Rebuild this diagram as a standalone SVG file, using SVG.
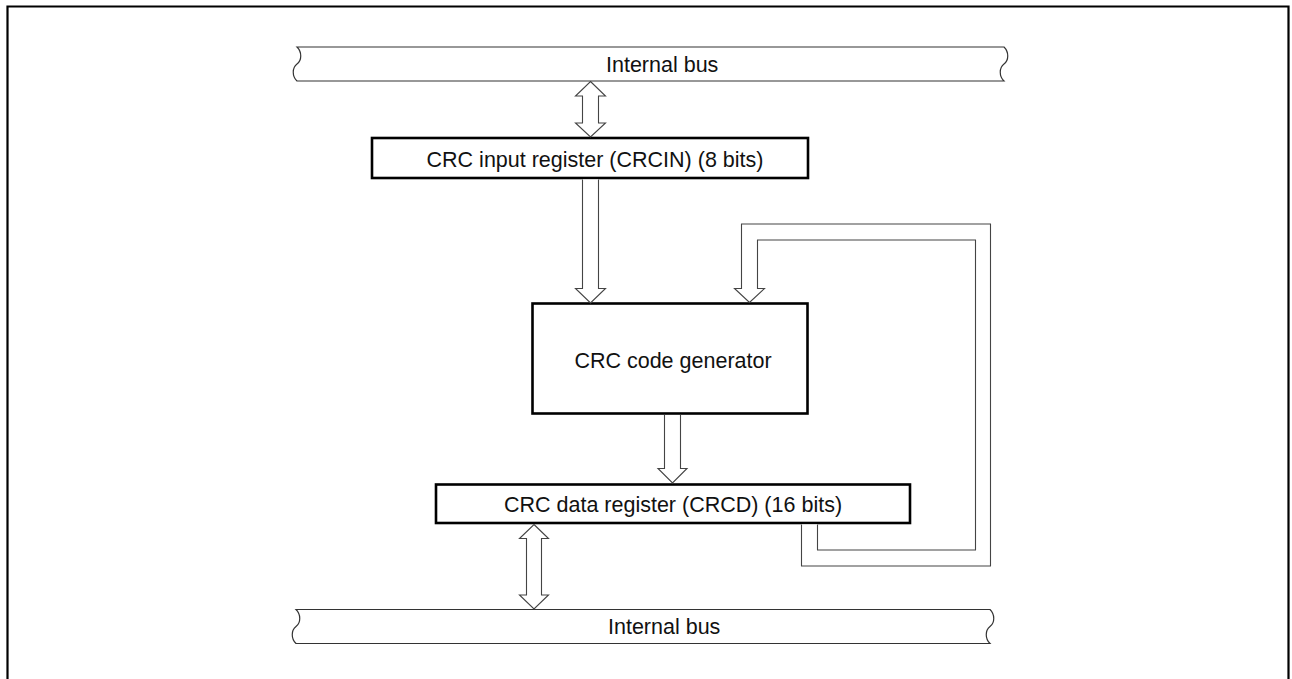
<svg xmlns="http://www.w3.org/2000/svg" width="1292" height="679" viewBox="0 0 1292 679">
<style>
.frame{fill:none;stroke:#000;stroke-width:2.2}
.box{fill:#fff;stroke:#000;stroke-width:2.6}
.bus{fill:none;stroke:#333;stroke-width:1.2}
.arr{fill:#fff;stroke:#444;stroke-width:1.1;stroke-linejoin:miter}
.t{font-family:"Liberation Sans",Arial,sans-serif;font-size:21.5px;fill:#111}
.m{text-anchor:middle}
</style>
<rect width="1292" height="679" fill="#fff"/>
<path class="frame" d="M7.5,681 V6.5 H1288.5 V681"/>
<g id="bus-top">
<path class="bus" d="M297,47 H1004 C1009,52 1009,60 1004,64 C999,68 999,76 1004,81 H297 C292,76 292,68 297,64 C302,60 302,52 297,47 Z" fill="#fff"/>
<text class="t" x="606" y="71.5">Internal bus</text>
</g>
<g id="bus-bottom">
<path class="bus" d="M296,609.5 H990 C995,614.5 995,622.5 990,626.5 C985,630.5 985,638.5 990,643.5 H296 C291,638.5 291,630.5 296,626.5 C301,622.5 301,614.5 296,609.5 Z" fill="#fff"/>
<text class="t" x="608" y="633.5">Internal bus</text>
</g>
<g id="crcin">
<rect class="box" x="372" y="138" width="436" height="40"/>
<text class="t m" x="595" y="167">CRC input register (CRCIN) (8 bits)</text>
</g>
<g id="generator">
<rect class="box" x="532.5" y="303.5" width="275" height="110"/>
<text class="t m" x="673" y="368">CRC code generator</text>
</g>
<g id="crcd">
<rect class="box" x="436" y="484.5" width="474" height="38.5"/>
<text class="t m" x="673" y="511.5">CRC data register (CRCD) (16 bits)</text>
</g>
<g id="connectors">
<path class="arr" d="M590.5,81.5 L605.5,96 H598.5 V123 H605.5 L590.5,137 L575.5,123 H582.5 V96 H575.5 Z"/>
<path class="arr" d="M582.5,179.5 V288.5 H575.5 L590.5,303 L605.5,288.5 H598.5 V179.5"/>
<path class="arr" d="M664.5,415 V468.5 H658 L672.5,483 L687,468.5 H680.5 V415"/>
<path class="arr" d="M801.5,524.5 V566 H990.5 V224 H741.5 V288.5 H734.5 L749.5,302.5 L764.5,288.5 H757.5 V240 H975.5 V550 H817.5 V524.5"/>
<path class="arr" d="M534,524.5 L548.5,538.5 H541.5 V595 H548.5 L534,609 L519.5,595 H526.5 V538.5 H519.5 Z"/>
</g>
</svg>
